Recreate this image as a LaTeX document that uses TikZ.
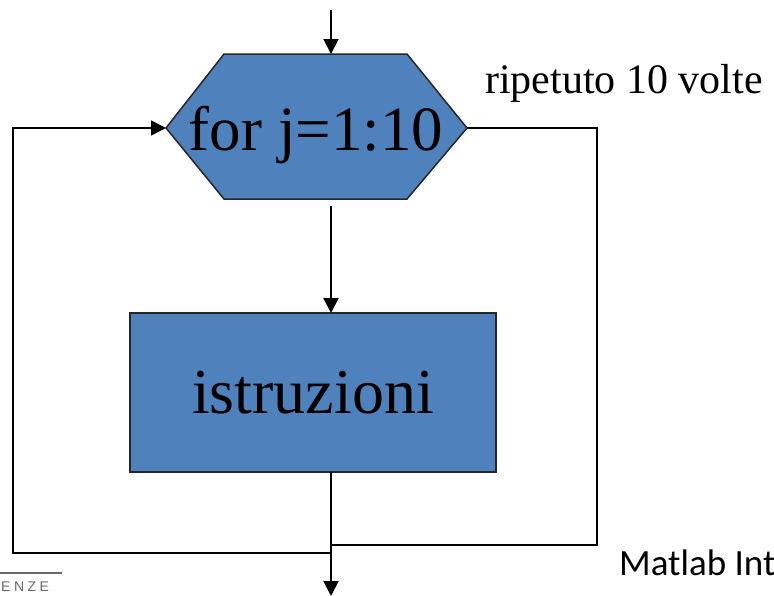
\documentclass[tikz,border=0pt]{standalone}
\usepackage{fontspec}
\setmainfont{Liberation Serif}
\newfontfamily\calibrifont{Carlito}
\newfontfamily\logofont[LetterSpace=25]{Liberation Sans}
\usetikzlibrary{arrows.meta}
\definecolor{boxblue}{RGB}{79,129,189}
\definecolor{logogray}{RGB}{105,105,105}
\begin{document}
\begin{tikzpicture}[x=1pt,y=-1pt,
  conn/.style={line width=1.9pt,draw=black},
  arr/.style={conn,-{Triangle[width=15pt,length=15pt]}},
  shapeline/.style={draw=black!85,line width=1.5pt,fill=boxblue},
  bigtext/.style={font=\fontsize{63}{63}\selectfont,inner sep=0pt}]
\useasboundingbox (0,0) rectangle (774,595);

% hexagon vertices
\coordinate (hTL) at (224,54);
\coordinate (hTR) at (407,54);
\coordinate (hR) at (467,128);
\coordinate (hBR) at (407,199);
\coordinate (hBL) at (224,199);
\coordinate (hL) at (166,128);
\coordinate (hT) at (331,54);
\coordinate (hB) at (331,206);
\filldraw[shapeline] (hTL) -- (hTR) -- (hR) -- (hBR) -- (hBL) -- (hL) -- cycle;
\node[bigtext,anchor=base] (for) at (316,150) {for j=1:10};

% instructions box
\node[shapeline,minimum width=366pt,minimum height=159pt,inner sep=0pt,
      font=\fontsize{64}{64}\selectfont] (instr) at (313,392.5) {istruzioni};
\coordinate (iT) at (331,313);
\coordinate (iB) at (331,472);

% connector coordinates
\coordinate (start) at (331,10);
\coordinate (stop) at (331,596);
\coordinate (rTop) at (597,128);
\coordinate (rBot) at (597,545);
\coordinate (rJoin) at (331,545);
\coordinate (lJoin) at (331,553);
\coordinate (lBot) at (13,553);
\coordinate (lTop) at (13,128);

\draw[arr] (start) -- (hT);
\draw[arr] (hB) -- (iT);
\draw[arr] (iB) -- (stop);
\draw[conn] (hR) -- (rTop) -- (rBot) -- (rJoin);
\draw[arr,line width=1.5pt] (lJoin) -- (lBot) -- (lTop) -- (hL);

% labels
\node[anchor=base west,inner sep=0pt,font=\fontsize{42}{42}\selectfont] (rep) at (485,93) {ripetuto 10 volte};
\node[anchor=base west,inner sep=0pt,font=\calibrifont\fontsize{37}{37}\selectfont] (mat) at (619,575) {Matlab Int};

% logo fragment
\coordinate (g1) at (0,573);
\coordinate (g2) at (62,573);
\draw[logogray,line width=1.5pt] (g1) -- (g2);
\node[anchor=base west,inner sep=0pt,text=logogray,font=\logofont\fontsize{14}{14}\selectfont] (logo) at (1,591.5) {ENZE};
\end{tikzpicture}
\end{document}
